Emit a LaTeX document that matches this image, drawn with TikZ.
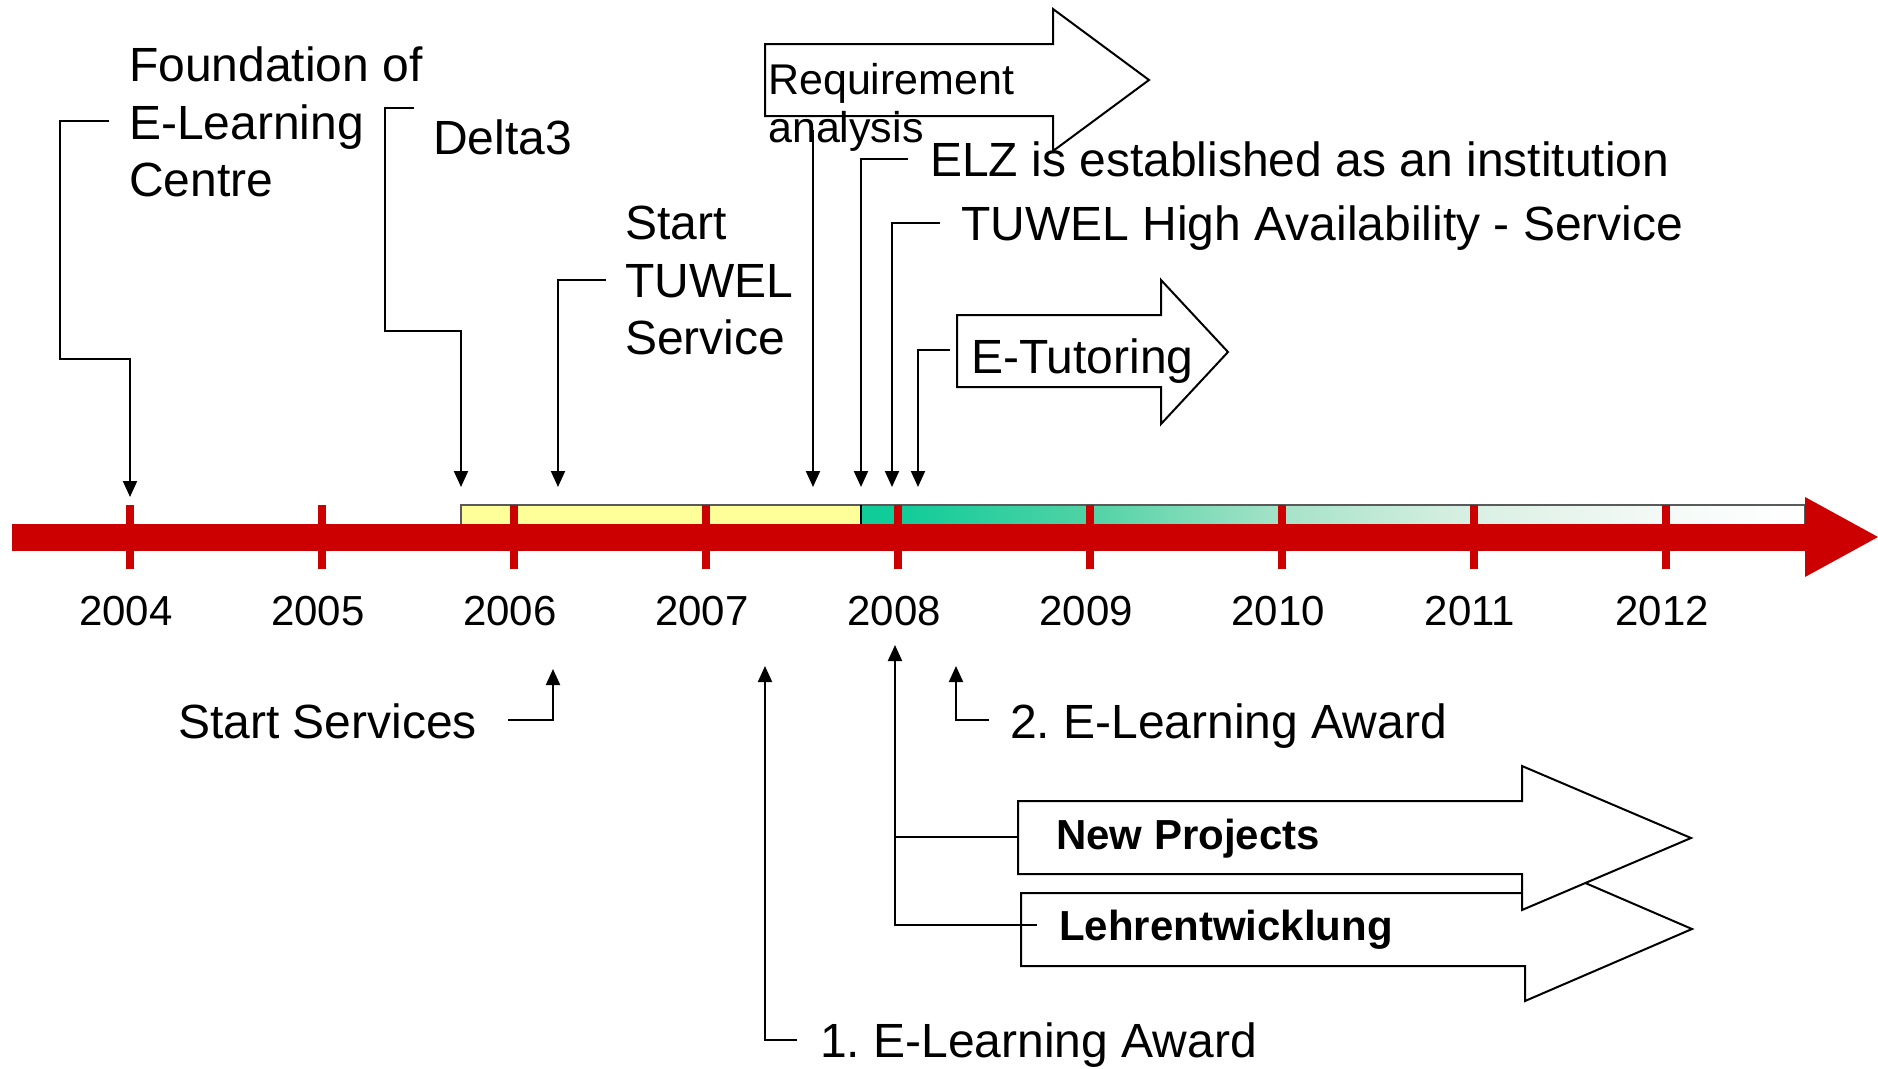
\documentclass[tikz,border=0pt]{standalone}
\usepackage{fontspec}
\setmainfont{Liberation Sans}
\usetikzlibrary{arrows.meta}
\definecolor{tlred}{RGB}{204,0,0}
\definecolor{tlyellow}{RGB}{255,255,153}
\definecolor{tlgreen}{RGB}{16,204,153}
\definecolor{gA}{RGB}{80,210,165}
\definecolor{gB}{RGB}{165,226,200}
\definecolor{gC}{RGB}{218,240,228}
\definecolor{gD}{RGB}{245,250,247}
\definecolor{bandline}{RGB}{90,90,90}
\pgfdeclarehorizontalshading{bandshade}{100bp}{color(0bp)=(tlgreen); color(25bp)=(tlgreen); color(27bp)=(tlgreen); color(37bp)=(gA); color(47.2bp)=(gB); color(57.5bp)=(gC); color(67.6bp)=(gD); color(75bp)=(white); color(100bp)=(white)}
\frenchspacing
\begin{document}
\begin{tikzpicture}[x=1pt,y=-1pt,
  lbl/.style={inner sep=0pt, anchor=base west, font=\fontsize{48}{57.5}\selectfont},
  mlbl/.style={inner sep=0pt, anchor=north west, align=left, font=\fontsize{48}{57.5}\selectfont},
  yr/.style={inner sep=0pt, anchor=base, font=\fontsize{42}{48}\selectfont},
  blbl/.style={inner sep=0pt, anchor=base west, font=\fontsize{42}{48}\selectfont\bfseries},
  conn/.style={line width=2pt, -{Triangle[width=14pt,length=16pt]}},
  plain/.style={line width=2pt},
  bigarrow/.style={draw=black, fill=white, line width=2pt, line join=miter},
  tickmark/.style={fill=tlred, draw=none}
]
\useasboundingbox (0,0) rectangle (1878,1068);

% ---------- band above the time line ----------
\fill[tlyellow] (461,505) rectangle (861,524);
\shade[shading=bandshade] (861,505) rectangle (1805,524);
\draw[bandline, line width=2pt] (461,524) -- (461,505) -- (1805,505) -- (1805,524);
\draw[black, line width=2pt] (861,505) -- (861,524);

% ---------- main time line ----------
\fill[tlred] (12,524) rectangle (1805,550.5);
\fill[tlred] (1805,497) -- (1878,537) -- (1805,577) -- cycle;

% ticks and years
\foreach \x/\y in {130/2004,322/2005,514/2006,706/2007,898/2008,1090/2009,1282/2010,1474/2011,1666/2012}{
  \fill[tickmark] (\x-4.25,505) rectangle (\x+4.25,569);
  \node[yr] (y\y) at (\x-4,625.5) {\y};
}

% ---------- block arrows ----------
\draw[bigarrow] (765,44) -- (1053,44) -- (1053,9) -- (1149,80) -- (1053,151) -- (1053,116) -- (765,116) -- cycle;
\draw[bigarrow] (957,315) -- (1161,315) -- (1161,280) -- (1228,352) -- (1161,424) -- (1161,387) -- (957,387) -- cycle;
\draw[bigarrow] (1021,893) -- (1525,893) -- (1525,857) -- (1692,929) -- (1525,1001) -- (1525,966) -- (1021,966) -- cycle;
\draw[bigarrow] (1018,801) -- (1522,801) -- (1522,766) -- (1691,838) -- (1522,910) -- (1522,874) -- (1018,874) -- cycle;

% ---------- labels ----------
\node[mlbl] (found) at (129,47) {Foundation of\\E-Learning\\Centre};
\node[lbl] (delta) at (433,154) {Delta3};
\node[mlbl] (stuwel) at (625,206) {Start\\TUWEL\\Service};
\node[inner sep=0pt, anchor=north west, align=left, font=\fontsize{43}{48}\selectfont] (req) at (768,63) {Requirement\\analysis};
\node[lbl] (elz) at (930,176) {ELZ is established as an institution};
\node[lbl] (tha) at (961,240) {TUWEL High Availability - Service};
\node[lbl] (etut) at (971,373) {E-Tutoring};
\node[lbl] (sserv) at (178,738) {Start Services};
\node[lbl] (aw2) at (1010,738) {2. E-Learning Award};
\node[lbl] (aw1) at (820,1057) {1. E-Learning Award};
\node[blbl] (newp) at (1056,849) {New Projects};
\node[blbl] (lehr) at (1059,940) {Lehrentwicklung};

% ---------- connector end points ----------
\coordinate (cFound) at (109,121);
\coordinate (tFound) at (130,497);
\coordinate (cDelta) at (414,108);
\coordinate (tDelta) at (461,487);
\coordinate (cStu) at (606,280);
\coordinate (tStu) at (558,487);
\coordinate (cReq) at (813,130);
\coordinate (tReq) at (813,487);
\coordinate (cElz) at (908,159);
\coordinate (tElz) at (861,487);
\coordinate (cTha) at (940,223);
\coordinate (tTha) at (892,487);
\coordinate (cEtu) at (950,350);
\coordinate (tEtu) at (918,487);
\coordinate (cSs) at (508,720);
\coordinate (tSs) at (553,669);
\coordinate (cAw1) at (797,1040);
\coordinate (tAw1) at (765,666);
\coordinate (cAw2) at (989,720);
\coordinate (tAw2) at (956,666);
\coordinate (cNp) at (1018,837);
\coordinate (cLw) at (1037,925);
\coordinate (t08) at (895,645);
\coordinate (j08) at (895,837);

% ---------- connectors ----------
\draw[conn] (cFound) -- (60,121) -- (60,359) -- (130,359) -- (tFound);
\draw[conn] (cDelta) -- (385,108) -- (385,331) -- (461,331) -- (tDelta);
\draw[conn] (cStu) -| (tStu);
\draw[conn] (cReq) -- (tReq);
\draw[conn] (cElz) -| (tElz);
\draw[conn] (cTha) -| (tTha);
\draw[conn] (cEtu) -| (tEtu);
\draw[conn] (cSs) -| (tSs);
\draw[conn] (cAw1) -| (tAw1);
\draw[conn] (cAw2) -| (tAw2);
\draw[conn] (cNp) -- (j08) -- (t08);
\draw[plain] (cLw) -| (j08);
\end{tikzpicture}
\end{document}
